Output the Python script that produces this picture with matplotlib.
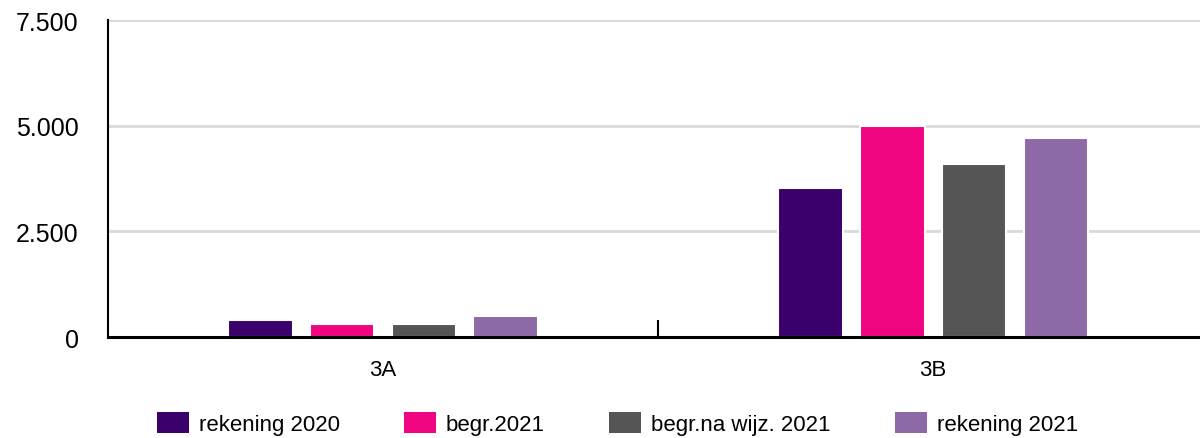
import matplotlib
matplotlib.use('Agg')
import matplotlib.pyplot as plt
from matplotlib.patches import Patch
from matplotlib.ticker import FuncFormatter, FixedLocator
import numpy as np

plt.rcParams['font.family'] = ['Liberation Sans', 'DejaVu Sans']

categories = ['3A', '3B']
series = ['rekening 2020', 'begr.2021', 'begr.na wijz. 2021', 'rekening 2021']
values = {
    'rekening 2020': [400, 3525],
    'begr.2021': [300, 5000],
    'begr.na wijz. 2021': [300, 4095],
    'rekening 2021': [490, 4705],
}
colors = ['#3a006b', '#f0047f', '#555555', '#8e69a8']

fig = plt.figure(figsize=(12, 4.39), dpi=100)
ax = fig.add_axes([0.09, 0.23, 0.9167, 0.722])

x = np.arange(len(categories))
width = 0.118
step = 0.149
for i, (name, c) in enumerate(zip(series, colors)):
    off = (i - 1.5) * step
    ax.bar(x + off, values[name], width=width, color=c, edgecolor='white',
           linewidth=1.5, zorder=3)

ax.set_xlim(-0.5, 1.5)
ax.set_ylim(0, 7500)
ax.set_yticks([0, 2500, 5000, 7500])
ax.yaxis.set_major_formatter(FuncFormatter(lambda v, p: f'{int(v):,}'.replace(',', '.')))
ax.grid(axis='y', color='#d9d9d9', linewidth=2, zorder=0)
ax.set_axisbelow(True)

ax.set_xticks(x)
ax.set_xticklabels(categories)
ax.xaxis.set_minor_locator(FixedLocator([0.5]))
ax.tick_params(axis='x', which='major', length=0, pad=16, labelsize=16)
ax.tick_params(axis='x', which='minor', direction='in', length=12, width=1.5, color='black')
ax.tick_params(axis='y', length=0, pad=21, labelsize=18)

for s in ['top', 'right']:
    ax.spines[s].set_visible(False)
ax.spines['left'].set_linewidth(1.5)
ax.spines['bottom'].set_linewidth(2.2)
ax.spines['bottom'].set_zorder(4)

handles = [Patch(facecolor=c, edgecolor='none', label=n) for n, c in zip(series, colors)]
fig.legend(handles=handles, loc='center', bbox_to_anchor=(0.5146, 0.032), ncol=4,
           frameon=False, fontsize=16, handlelength=1.44, handleheight=1.08,
           handletextpad=0.45, columnspacing=2.9, borderpad=0, borderaxespad=0)

fig.savefig('out.png', dpi=100)
